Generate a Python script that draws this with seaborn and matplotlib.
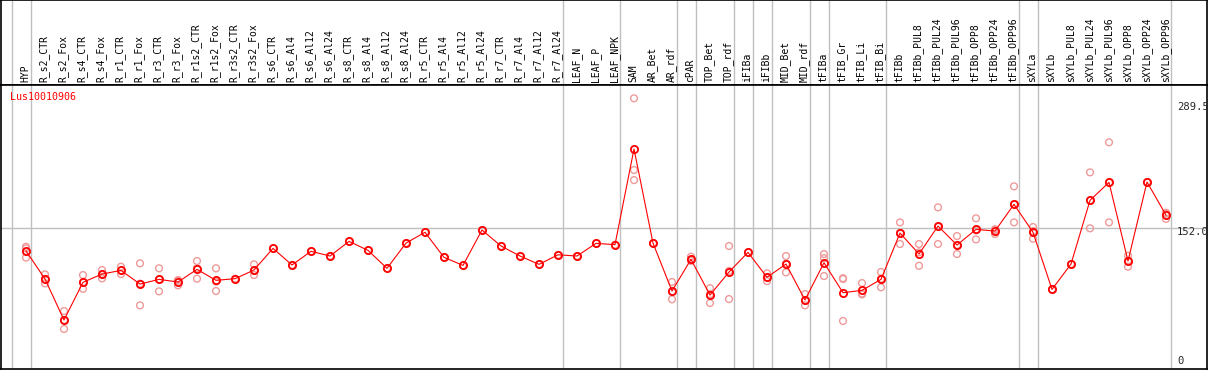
import numpy as np
import pandas as pd
import matplotlib
matplotlib.use('Agg')
import matplotlib.pyplot as plt
import matplotlib.transforms as mtransforms
import seaborn as sns

# ============================================================
# DATA
# ============================================================
gene_id = 'Lus10010906'

samples = ['HYP', 'R_s2_CTR', 'R_s2_Fox', 'R_s4_CTR', 'R_s4_Fox', 'R_r1_CTR', 'R_r1_Fox',
           'R_r3_CTR', 'R_r3_Fox', 'R_r1s2_CTR', 'R_r1s2_Fox', 'R_r3s2_CTR', 'R_r3s2_Fox',
           'R_s6_CTR', 'R_s6_Al4', 'R_s6_Al12', 'R_s6_Al24', 'R_s8_CTR', 'R_s8_Al4',
           'R_s8_Al12', 'R_s8_Al24', 'R_r5_CTR', 'R_r5_Al4', 'R_r5_Al12', 'R_r5_Al24',
           'R_r7_CTR', 'R_r7_Al4', 'R_r7_Al12', 'R_r7_Al24', 'LEAF_N', 'LEAF_P', 'LEAF_NPK',
           'SAM', 'AR_Bet', 'AR_rdf', 'cPAR', 'TOP_Bet', 'TOP_rdf', 'iFIBa', 'iFIBb',
           'MID_Bet', 'MID_rdf', 'tFIBa', 'tFIB_Gr', 'tFIB_Li', 'tFIB_Bi', 'tFIBb',
           'tFIBb_PUL8', 'tFIBb_PUL24', 'tFIBb_PUL96', 'tFIBb_OPP8', 'tFIBb_OPP24',
           'tFIBb_OPP96', 'sXYLa', 'sXYLb', 'sXYLb_PUL8', 'sXYLb_PUL24', 'sXYLb_PUL96',
           'sXYLb_OPP8', 'sXYLb_OPP24', 'sXYLb_OPP96']

mean_expr = [128.1, 98.4, 55.0, 94.9, 103.6, 107.5, 93.0, 98.0, 95.2, 108.6, 97.0, 98.7, 107.9,
             130.8, 113.2, 127.7, 122.7, 138.2, 128.7, 109.7, 136.4, 147.8, 121.3, 112.8, 150.2,
             133.3, 122.7, 113.9, 124.0, 122.7, 136.1, 134.7,
             235.9, 136.4, 85.7, 119.2, 81.4, 105.8, 126.6, 100.2, 114.2, 76.2, 115.6, 83.9,
             86.4, 98.0, 147.0, 124.8, 154.4, 134.3, 150.9, 149.1, 177.4, 147.8, 87.4, 114.2,
             181.6, 200.6, 117.4, 201.0, 166.0]

replicates = [[132.5, 130.8, 121.0], [103.3, 98.4, 93.8], [64.5, 55.0, 45.5], [102.6, 94.9, 88.0],
              [107.9, 103.6, 99.0], [111.4, 107.5, 103.6], [115.0, 93.5, 70.5], [109.7, 98.0, 85.3],
              [97.3, 96.6, 91.7], [117.4, 109.7, 98.7], [109.7, 95.6, 85.7], [98.7],
              [113.9, 107.2, 102.6], [130.8], [113.2], [127.7], [122.7], [138.2], [128.7],
              [109.7], [136.4], [147.8], [121.3], [112.8], [150.2], [133.3], [122.7], [113.9],
              [124.0], [122.7], [136.1], [134.7],
              [289.5, 213.7, 203.0], [136.4], [95.2, 85.0, 76.9], [122.0, 118.0, 117.6],
              [88.8, 82.4, 73.0], [133.3, 106.9, 77.2], [126.6], [104.4, 100.0, 96.2],
              [122.7, 114.5, 105.4], [82.5, 75.6, 70.5], [124.8, 120.5, 101.5],
              [98.4, 99.3, 54.0], [94.1, 83.0, 82.1], [105.8, 98.6, 89.6],
              [158.3, 147.3, 135.4], [135.4, 126.6, 112.4], [174.2, 153.6, 135.4],
              [143.8, 134.3, 124.8], [162.6, 149.8, 140.3], [151.0, 150.3, 146.0],
              [196.4, 177.5, 158.3], [153.4, 149.0, 141.0], [87.4], [114.2],
              [211.2, 181.6, 152.0], [243.0, 200.5, 158.3], [123.0, 117.8, 111.4], [201.0],
              [168.5, 167.5, 162.0]]

# last sample of each tissue group (separator drawn right after it)
group_ends = ['HYP', 'R_r7_Al24', 'LEAF_NPK', 'AR_rdf', 'cPAR', 'TOP_rdf', 'iFIBa', 'iFIBb',
              'MID_rdf', 'tFIBa', 'tFIB_Bi', 'tFIBb_OPP96', 'sXYLa', 'sXYLb_OPP96']

y_labels = [289.5, 152.0, 0]

mean_df = pd.DataFrame({'pos': np.arange(len(samples)), 'sample': samples, 'value': mean_expr})
rep_rows = [(i, v) for i, reps in enumerate(replicates) for v in reps]
rep_df = pd.DataFrame(rep_rows, columns=['pos', 'value'])

# ============================================================
# FIGURE
# ============================================================
sns.set_style('white')
plt.rcParams['font.family'] = ['DejaVu Sans Mono']

W, H = 1209, 370
fig = plt.figure(figsize=(W / 100, H / 100), dpi=100)
head_h = 85
ax_h = fig.add_axes([1 / W, (H - head_h) / H, 1206 / W, head_h / H])
ax = fig.add_axes([1 / W, 1 / H, 1206 / W, 284 / H])

xlim = ((1 - 26) / 19, (1207 - 26) / 19)
ylim = (3.2, 303.6)
for a in (ax_h, ax):
    a.set_xlim(*xlim)
    a.set_xticks([])
    a.set_yticks([])
    for s in a.spines.values():
        s.set_color('black')
        s.set_linewidth(1.2)
    # group separators
    a.axvline(-1 + 0.27, color='#c0c0c0', lw=1, zorder=0)
    for g in group_ends:
        a.axvline(samples.index(g) + 0.27, color='#c0c0c0', lw=1, zorder=0)

ax_h.set_ylim(0, 1)

# header labels
trans = mtransforms.blended_transform_factory(ax_h.transData, ax_h.transAxes)
for i, name in enumerate(samples):
    ax_h.annotate(name, xy=(i, 0), xycoords=trans, xytext=(-0.5, 1.8), textcoords='offset points',
                  rotation=90, ha='center', va='bottom', fontsize=7, color='black')

# horizontal reference line
ax.axhline(152.0, color='#c0c0c0', lw=1, zorder=0)

# replicates
sns.scatterplot(data=rep_df, x='pos', y='value', ax=ax, marker='o', s=24,
                facecolor='none', edgecolor='#ef9a9a', linewidth=1.0, zorder=2)

# mean line + markers
sns.lineplot(data=mean_df, x='pos', y='value', ax=ax, color='red', lw=0.8, zorder=3,
             marker='o', markersize=5.2, markerfacecolor='none', markeredgecolor='red',
             markeredgewidth=1.3)
ax.set_xlabel('')
ax.set_ylabel('')
ax.set_xlim(*xlim)
ax.set_ylim(*ylim)

# gene label
ax.annotate(gene_id, xy=(0, 1), xycoords='axes fraction', xytext=(6.5, -8.6),
            textcoords='offset points', ha='left', va='center', fontsize=7.2, color='red')

# right side value labels
rtrans = mtransforms.blended_transform_factory(ax.transAxes, ax.transData)
offsets = [-6.5, -2.9, 0]
for val, off in zip(y_labels, offsets):
    if val == 0:
        ax.annotate(f'{val}', xy=(1, 0), xycoords='axes fraction', xytext=(-21.6, 5.5),
                    textcoords='offset points', ha='left', va='center', fontsize=7.6)
    else:
        ax.annotate(f'{val:.1f}', xy=(1, val), xycoords=rtrans, xytext=(-21.6, off),
                    textcoords='offset points', ha='left', va='center', fontsize=7.6)

fig.savefig('out.png', dpi=100)
plt.close(fig)
